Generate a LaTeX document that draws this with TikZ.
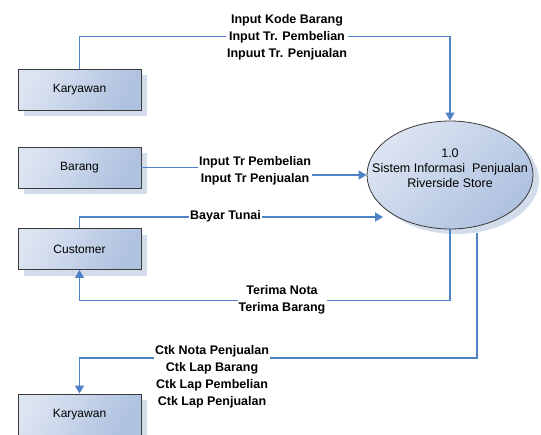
\documentclass[tikz,border=0pt]{standalone}
\usepackage{fontspec}
\setmainfont{Liberation Sans}
\usetikzlibrary{arrows.meta,shapes.geometric,shadows}
\definecolor{flowc}{HTML}{4F81C7}
\definecolor{boxlight}{HTML}{DCE4F2}
\definecolor{boxdark}{HTML}{AEC1DF}
\definecolor{shadowc}{HTML}{D3DCEB}
\definecolor{edgec}{HTML}{3A3A3A}
\begin{document}
\begin{tikzpicture}[x=1pt,y=-1pt,
  entity/.style={draw=edgec, line width=0.9pt, minimum width=123pt, minimum height=41pt,
    inner sep=0pt, left color=boxlight, right color=boxdark, shading angle=60,
    general shadow={fill=shadowc, shadow xshift=6pt, shadow yshift=-6pt},
    font=\fontsize{12}{14}\selectfont},
  proc/.style={ellipse, draw=edgec, line width=0.8pt, minimum width=166pt, minimum height=108pt,
    inner sep=0pt, left color=boxlight, right color=boxdark, shading angle=45,
    general shadow={fill=shadowc, shadow xshift=6pt, shadow yshift=-5pt}},
  flow/.style={draw=flowc, line width=1.5pt, -{Triangle[length=8pt,width=9pt]}},
  flabel/.style={fill=white, inner sep=1.2pt, align=center,
    font=\bfseries\fontsize{12.5}{17}\selectfont}]
\useasboundingbox (0,0) rectangle (541,434);

\node[entity] (k1) at (79.5,89.5) {Karyawan};
\node[entity] (b) at (79.5,167.5) {Barang};
\node[entity] (c) at (79.5,249) {Customer};
\node[entity] (k2) at (79.5,414.5) {Karyawan};
\node[proc] (p) at (450,175) {};
\node[align=center, font=\fontsize{12.5}{15}\selectfont] (pt) at (450,168)
  {1.0\\Sistem Informasi\ \ Penjualan\\Riverside Store};

\coordinate (bt) at (383,217);
\coordinate (ck) at (477,233);

\draw[flow] (k1.north) -- ++(0,-32) -| (p.north);
\draw[flow] (b.east) -- ++(114,0) -- ++(0,7.5) -- (p.west);
\draw[flow] (c.north) |- (bt);
\draw[flow] (p.south) -- ++(0,71) -| (c.south);
\draw[flow] (ck) -- ++(0,125) -| (k2.north);

\node[flabel] (l1) at (287,37) {Input Kode Barang\\Input Tr. Pembelian\\Inpuut Tr. Penjualan};
\node[flabel] (l2) at (255,171) {Input Tr Pembelian\\Input Tr Penjualan};
\node[flabel] (l3) at (225.5,216.5) {Bayar Tunai};
\node[flabel] (l4) at (282,299.5) {Terima Nota\\Terima Barang};
\node[flabel] (l5) at (212,376.5) {Ctk Nota Penjualan\\Ctk Lap Barang\\Ctk Lap Pembelian\\Ctk Lap Penjualan};
\end{tikzpicture}
\end{document}
